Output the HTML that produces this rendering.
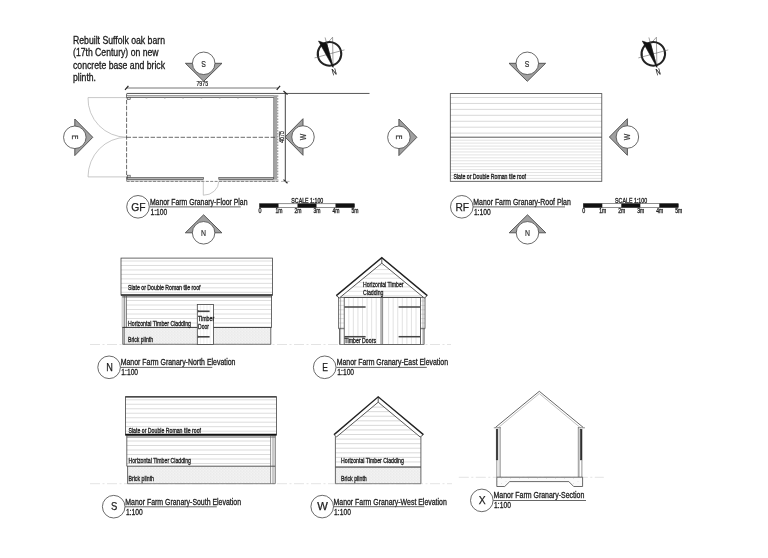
<!DOCTYPE html>
<html lang="en"><head><meta charset="utf-8"><title>Manor Farm Granary</title>
<style>html,body{margin:0;padding:0;background:#fff;}svg{display:block;}text{font-family:'Liberation Sans', sans-serif;}</style>
</head><body>
<svg width="768" height="558" viewBox="0 0 768 558" style="filter:grayscale(1)">
<rect x="0" y="0" width="768" height="558" fill="#fff"/>
<text x="73" y="43.7" font-size="10" fill="#1a1a1a" stroke="#1a1a1a" stroke-width="0.3" textLength="92" lengthAdjust="spacingAndGlyphs">Rebuilt Suffolk oak barn</text>
<text x="73" y="56.2" font-size="10" fill="#1a1a1a" stroke="#1a1a1a" stroke-width="0.3" textLength="85.5" lengthAdjust="spacingAndGlyphs">(17th Century) on new</text>
<text x="73" y="68.7" font-size="10" fill="#1a1a1a" stroke="#1a1a1a" stroke-width="0.3" textLength="92" lengthAdjust="spacingAndGlyphs">concrete base and brick</text>
<text x="73" y="81.2" font-size="10" fill="#1a1a1a" stroke="#1a1a1a" stroke-width="0.3" textLength="23" lengthAdjust="spacingAndGlyphs">plinth.</text>
<path d="M126.6 97.6H88A38.6 38.6 0 0 0 126.6 137.2" fill="none" stroke="#b0b0b0" stroke-width="0.7"/>
<path d="M126.6 176.9H88A38.6 39.6 0 0 1 126.6 137.3" fill="none" stroke="#b0b0b0" stroke-width="0.7"/>
<line x1="126.6" y1="93.45" x2="369.5" y2="93.45" stroke="#444" stroke-width="0.9" />
<line x1="126.6" y1="95.6" x2="274" y2="95.6" stroke="#6a6a6a" stroke-width="0.7" />
<line x1="128" y1="97.3" x2="274" y2="97.3" stroke="#3c3c3c" stroke-width="0.9" />
<rect x="127.6" y="97.6" width="2.6" height="2.0" fill="#ddd" stroke="#444" stroke-width="0.6" />
<line x1="145.7" y1="98" x2="147.3" y2="98" stroke="#888" stroke-width="0.7" />
<line x1="163.99999999999997" y1="98" x2="165.6" y2="98" stroke="#888" stroke-width="0.7" />
<line x1="182.29999999999998" y1="98" x2="183.9" y2="98" stroke="#888" stroke-width="0.7" />
<line x1="200.59999999999997" y1="98" x2="202.2" y2="98" stroke="#888" stroke-width="0.7" />
<line x1="218.89999999999998" y1="98" x2="220.5" y2="98" stroke="#888" stroke-width="0.7" />
<line x1="237.2" y1="98" x2="238.8" y2="98" stroke="#888" stroke-width="0.7" />
<line x1="255.49999999999994" y1="98" x2="257.09999999999997" y2="98" stroke="#888" stroke-width="0.7" />
<line x1="126.6" y1="94" x2="126.6" y2="181.5" stroke="#3a3a3a" stroke-width="0.75" stroke-dasharray="4.4 1.5"/>
<rect x="273.6" y="95.2" width="3.6" height="86.6" fill="#a4a4a4" stroke="none" stroke-width="0" />
<line x1="273.6" y1="97" x2="273.6" y2="179" stroke="#666" stroke-width="0.6" />
<line x1="277.7" y1="95.2" x2="277.7" y2="182" stroke="#999" stroke-width="1.2" stroke-dasharray="1.6 1.3"/>
<line x1="126.6" y1="137.3" x2="275.5" y2="137.3" stroke="#3a3a3a" stroke-width="0.75" stroke-dasharray="4.4 1.6"/>
<rect x="126.6" y="179.6" width="77" height="2.2" fill="#d8d8d8" stroke="none" stroke-width="0" />
<rect x="218.8" y="179.6" width="59.3" height="2.2" fill="#d8d8d8" stroke="none" stroke-width="0" />
<line x1="126.6" y1="181.4" x2="278.3" y2="181.4" stroke="#777" stroke-width="0.9" stroke-dasharray="3 1.4"/>
<rect x="127.4" y="177.6" width="76.1" height="2.0" fill="#b4b4b4" stroke="#3c3c3c" stroke-width="0.6" />
<rect x="218.8" y="177.6" width="54.6" height="2.0" fill="#b4b4b4" stroke="#3c3c3c" stroke-width="0.6" />
<rect x="127.6" y="175.2" width="2.6" height="2.0" fill="#ddd" stroke="#444" stroke-width="0.6" />
<path d="M203.3 181.4V195.2A15.3 14 0 0 0 218.8 181.4" fill="none" stroke="#b0b0b0" stroke-width="0.7"/>
<line x1="126.6" y1="88.0" x2="278.3" y2="88.0" stroke="#666" stroke-width="0.9" />
<line x1="125.0" y1="89.8" x2="128.4" y2="85.8" stroke="#222" stroke-width="1.2" />
<line x1="276.7" y1="89.8" x2="280.1" y2="85.8" stroke="#222" stroke-width="1.2" />
<text x="202.3" y="85.7" font-size="6.6" fill="#222" stroke="#222" stroke-width="0.2" text-anchor="middle" textLength="11.7" lengthAdjust="spacingAndGlyphs">7975</text>
<line x1="285.3" y1="93" x2="285.3" y2="181.4" stroke="#444" stroke-width="1.0" />
<line x1="283.5" y1="91.0" x2="287.5" y2="94.6" stroke="#222" stroke-width="1.2" />
<line x1="283.5" y1="179.6" x2="287.5" y2="183.2" stroke="#222" stroke-width="1.2" />
<line x1="281" y1="181.4" x2="289.5" y2="181.4" stroke="#888" stroke-width="0.6" />
<text x="283.9" y="137.1" font-size="6.6" fill="#222" stroke="#222" stroke-width="0.2" text-anchor="middle" textLength="11.7" lengthAdjust="spacingAndGlyphs" transform="rotate(-90 283.8 137.1)">4675</text>
<polygon points="185.40,63.30 222.00,63.30 203.70,81.30" fill="#a0a0a0" stroke="#4a4a4a" stroke-width="0.9" stroke-linejoin="miter"/>
<circle cx="203.7" cy="63.3" r="11.25" fill="#fff" stroke="#444" stroke-width="0.8"/>
<text x="203.7" y="66.0" font-size="8.8" fill="#333" stroke="#333" stroke-width="0.2" text-anchor="middle" textLength="4.6" lengthAdjust="spacingAndGlyphs" transform="rotate(180 203.7 63.3)">S</text>
<polygon points="74.80,119.00 74.80,155.60 92.80,137.30" fill="#a0a0a0" stroke="#4a4a4a" stroke-width="0.9" stroke-linejoin="miter"/>
<circle cx="74.8" cy="137.3" r="11.25" fill="#fff" stroke="#444" stroke-width="0.8"/>
<text x="74.8" y="140.0" font-size="8.8" fill="#333" stroke="#333" stroke-width="0.2" text-anchor="middle" textLength="4.4" lengthAdjust="spacingAndGlyphs" transform="rotate(90 74.8 137.3)">E</text>
<polygon points="303.00,118.70 303.00,155.30 285.00,137.00" fill="#a0a0a0" stroke="#4a4a4a" stroke-width="0.9" stroke-linejoin="miter"/>
<circle cx="303.0" cy="137.0" r="11.25" fill="#fff" stroke="#444" stroke-width="0.8"/>
<text x="303.0" y="139.7" font-size="8.8" fill="#333" stroke="#333" stroke-width="0.2" text-anchor="middle" textLength="6.5" lengthAdjust="spacingAndGlyphs" transform="rotate(-90 303.0 137.0)">W</text>
<polygon points="185.30,232.80 221.90,232.80 203.60,214.80" fill="#a0a0a0" stroke="#4a4a4a" stroke-width="0.9" stroke-linejoin="miter"/>
<circle cx="203.6" cy="232.8" r="11.25" fill="#fff" stroke="#444" stroke-width="0.8"/>
<text x="203.6" y="235.5" font-size="8.8" fill="#333" stroke="#333" stroke-width="0.2" text-anchor="middle" textLength="5.0" lengthAdjust="spacingAndGlyphs">N</text>
<g transform="translate(329.5 53.9) rotate(165)">
<polygon points="0,-13.8 -7.3,15.3 0,10.4" fill="#fff" stroke="#555" stroke-width="0.5"/>
<circle cx="0" cy="0" r="11.8" fill="none" stroke="#222" stroke-width="2"/>
<line x1="-15.5" y1="0" x2="15.5" y2="0" stroke="#555" stroke-width="0.5"/>
<line x1="0" y1="-14" x2="0" y2="17" stroke="#555" stroke-width="0.5"/>
<polygon points="0,-13.8 7.3,15.3 0,10.4" fill="#111" stroke="#111" stroke-width="0.5"/>
<text x="0" y="-15.4" font-size="9" fill="#222" stroke="#222" stroke-width="0.25" text-anchor="middle" textLength="4.4" lengthAdjust="spacingAndGlyphs">N</text>
</g>
<circle cx="138.0" cy="206.8" r="11.3" fill="#fff" stroke="#444" stroke-width="0.8"/>
<text x="138.4" y="210.5" font-size="11.4" fill="#222" stroke="#222" stroke-width="0.25" text-anchor="middle" textLength="14.3" lengthAdjust="spacingAndGlyphs">GF</text>
<text x="149.9" y="204.8" font-size="8.6" fill="#1c1c1c" stroke="#1c1c1c" stroke-width="0.3" textLength="97.6" lengthAdjust="spacingAndGlyphs">Manor Farm Granary-Floor Plan</text>
<line x1="149.6" y1="206.9" x2="240.8" y2="206.9" stroke="#555" stroke-width="0.9" />
<text x="150.5" y="214.8" font-size="8.5" fill="#1c1c1c" stroke="#1c1c1c" stroke-width="0.3" textLength="16.8" lengthAdjust="spacingAndGlyphs">1:100</text>
<rect x="259.5" y="203.8" width="95.0" height="3.6" fill="#fff" stroke="#222" stroke-width="0.5" />
<rect x="259.5" y="203.60000000000002" width="19.0" height="4.0" fill="#111"/>
<rect x="297.5" y="203.60000000000002" width="19.0" height="4.0" fill="#111"/>
<rect x="335.5" y="203.60000000000002" width="19.0" height="4.0" fill="#111"/>
<text x="307.3" y="202.70000000000002" font-size="6.5" fill="#222" stroke="#222" stroke-width="0.3" text-anchor="middle" textLength="32" lengthAdjust="spacingAndGlyphs">SCALE 1:100</text>
<text x="259.9" y="212.70000000000002" font-size="6.6" fill="#222" stroke="#222" stroke-width="0.3" text-anchor="middle" textLength="3.0" lengthAdjust="spacingAndGlyphs">0</text>
<text x="278.9" y="212.70000000000002" font-size="6.6" fill="#222" stroke="#222" stroke-width="0.3" text-anchor="middle" textLength="7.0" lengthAdjust="spacingAndGlyphs">1m</text>
<text x="297.9" y="212.70000000000002" font-size="6.6" fill="#222" stroke="#222" stroke-width="0.3" text-anchor="middle" textLength="7.0" lengthAdjust="spacingAndGlyphs">2m</text>
<text x="316.9" y="212.70000000000002" font-size="6.6" fill="#222" stroke="#222" stroke-width="0.3" text-anchor="middle" textLength="7.0" lengthAdjust="spacingAndGlyphs">3m</text>
<text x="335.9" y="212.70000000000002" font-size="6.6" fill="#222" stroke="#222" stroke-width="0.3" text-anchor="middle" textLength="7.0" lengthAdjust="spacingAndGlyphs">4m</text>
<text x="354.9" y="212.70000000000002" font-size="6.6" fill="#222" stroke="#222" stroke-width="0.3" text-anchor="middle" textLength="7.0" lengthAdjust="spacingAndGlyphs">5m</text>
<path d="M450.3 97.50H601.8M450.3 103.44H601.8M450.3 109.38H601.8M450.3 115.32H601.8M450.3 121.26H601.8M450.3 127.20H601.8M450.3 133.14H601.8" stroke="#cfcfcf" stroke-width="0.8" fill="none"/>
<path d="M450.3 140.20H601.8M450.3 143.14H601.8M450.3 146.08H601.8M450.3 149.02H601.8M450.3 151.96H601.8M450.3 154.90H601.8M450.3 157.84H601.8M450.3 160.78H601.8M450.3 163.72H601.8M450.3 166.66H601.8M450.3 169.60H601.8M450.3 172.54H601.8M450.3 175.48H601.8M450.3 178.42H601.8" stroke="#dcdcdc" stroke-width="0.8" fill="none"/>
<rect x="450.3" y="93.6" width="151.5" height="87.7" fill="none" stroke="#444" stroke-width="0.8" />
<line x1="450.3" y1="137.2" x2="601.8" y2="137.2" stroke="#444" stroke-width="0.9" />
<text x="453.5" y="178.5" font-size="6.6" fill="#222" stroke="#222" stroke-width="0.3" textLength="72.5" lengthAdjust="spacingAndGlyphs">Slate or Double Roman tile roof</text>
<polygon points="509.00,63.30 545.60,63.30 527.30,81.30" fill="#a0a0a0" stroke="#4a4a4a" stroke-width="0.9" stroke-linejoin="miter"/>
<circle cx="527.3" cy="63.3" r="11.25" fill="#fff" stroke="#444" stroke-width="0.8"/>
<text x="527.3" y="66.0" font-size="8.8" fill="#333" stroke="#333" stroke-width="0.2" text-anchor="middle" textLength="4.6" lengthAdjust="spacingAndGlyphs" transform="rotate(180 527.3 63.3)">S</text>
<polygon points="398.90,119.00 398.90,155.60 416.90,137.30" fill="#a0a0a0" stroke="#4a4a4a" stroke-width="0.9" stroke-linejoin="miter"/>
<circle cx="398.9" cy="137.3" r="11.25" fill="#fff" stroke="#444" stroke-width="0.8"/>
<text x="398.9" y="140.0" font-size="8.8" fill="#333" stroke="#333" stroke-width="0.2" text-anchor="middle" textLength="4.4" lengthAdjust="spacingAndGlyphs" transform="rotate(90 398.9 137.3)">E</text>
<polygon points="627.40,118.70 627.40,155.30 609.40,137.00" fill="#a0a0a0" stroke="#4a4a4a" stroke-width="0.9" stroke-linejoin="miter"/>
<circle cx="627.4" cy="137" r="11.25" fill="#fff" stroke="#444" stroke-width="0.8"/>
<text x="627.4" y="139.7" font-size="8.8" fill="#333" stroke="#333" stroke-width="0.2" text-anchor="middle" textLength="6.5" lengthAdjust="spacingAndGlyphs" transform="rotate(-90 627.4 137)">W</text>
<polygon points="509.20,232.80 545.80,232.80 527.50,214.80" fill="#a0a0a0" stroke="#4a4a4a" stroke-width="0.9" stroke-linejoin="miter"/>
<circle cx="527.5" cy="232.8" r="11.25" fill="#fff" stroke="#444" stroke-width="0.8"/>
<text x="527.5" y="235.5" font-size="8.8" fill="#333" stroke="#333" stroke-width="0.2" text-anchor="middle" textLength="5.0" lengthAdjust="spacingAndGlyphs">N</text>
<g transform="translate(653.3 53.9) rotate(165)">
<polygon points="0,-13.8 -7.3,15.3 0,10.4" fill="#fff" stroke="#555" stroke-width="0.5"/>
<circle cx="0" cy="0" r="11.8" fill="none" stroke="#222" stroke-width="2"/>
<line x1="-15.5" y1="0" x2="15.5" y2="0" stroke="#555" stroke-width="0.5"/>
<line x1="0" y1="-14" x2="0" y2="17" stroke="#555" stroke-width="0.5"/>
<polygon points="0,-13.8 7.3,15.3 0,10.4" fill="#111" stroke="#111" stroke-width="0.5"/>
<text x="0" y="-15.4" font-size="9" fill="#222" stroke="#222" stroke-width="0.25" text-anchor="middle" textLength="4.4" lengthAdjust="spacingAndGlyphs">N</text>
</g>
<circle cx="461.8" cy="206.8" r="11.3" fill="#fff" stroke="#444" stroke-width="0.8"/>
<text x="462.2" y="210.5" font-size="11.4" fill="#222" stroke="#222" stroke-width="0.25" text-anchor="middle" textLength="13.6" lengthAdjust="spacingAndGlyphs">RF</text>
<text x="473.3" y="204.8" font-size="8.6" fill="#1c1c1c" stroke="#1c1c1c" stroke-width="0.3" textLength="97.5" lengthAdjust="spacingAndGlyphs">Manor Farm Granary-Roof Plan</text>
<line x1="473.0" y1="206.9" x2="565" y2="206.9" stroke="#555" stroke-width="0.9" />
<text x="473.90000000000003" y="214.8" font-size="8.5" fill="#1c1c1c" stroke="#1c1c1c" stroke-width="0.3" textLength="16.8" lengthAdjust="spacingAndGlyphs">1:100</text>
<rect x="583.3" y="203.75" width="95.0" height="3.6" fill="#fff" stroke="#222" stroke-width="0.5" />
<rect x="583.3" y="203.55" width="19.0" height="4.0" fill="#111"/>
<rect x="621.3" y="203.55" width="19.0" height="4.0" fill="#111"/>
<rect x="659.3" y="203.55" width="19.0" height="4.0" fill="#111"/>
<text x="631.0999999999999" y="202.65" font-size="6.5" fill="#222" stroke="#222" stroke-width="0.3" text-anchor="middle" textLength="32" lengthAdjust="spacingAndGlyphs">SCALE 1:100</text>
<text x="583.6999999999999" y="212.65" font-size="6.6" fill="#222" stroke="#222" stroke-width="0.3" text-anchor="middle" textLength="3.0" lengthAdjust="spacingAndGlyphs">0</text>
<text x="602.6999999999999" y="212.65" font-size="6.6" fill="#222" stroke="#222" stroke-width="0.3" text-anchor="middle" textLength="7.0" lengthAdjust="spacingAndGlyphs">1m</text>
<text x="621.6999999999999" y="212.65" font-size="6.6" fill="#222" stroke="#222" stroke-width="0.3" text-anchor="middle" textLength="7.0" lengthAdjust="spacingAndGlyphs">2m</text>
<text x="640.6999999999999" y="212.65" font-size="6.6" fill="#222" stroke="#222" stroke-width="0.3" text-anchor="middle" textLength="7.0" lengthAdjust="spacingAndGlyphs">3m</text>
<text x="659.6999999999999" y="212.65" font-size="6.6" fill="#222" stroke="#222" stroke-width="0.3" text-anchor="middle" textLength="7.0" lengthAdjust="spacingAndGlyphs">4m</text>
<text x="678.6999999999999" y="212.65" font-size="6.6" fill="#222" stroke="#222" stroke-width="0.3" text-anchor="middle" textLength="7.0" lengthAdjust="spacingAndGlyphs">5m</text>
<line x1="90" y1="344.5" x2="451" y2="344.5" stroke="#dcdcdc" stroke-width="0.8" stroke-dasharray="10 2.5 2 2.5"/>
<path d="M121 261.00H272.5M121 265.47H272.5M121 269.94H272.5M121 274.41H272.5M121 278.88H272.5M121 283.35H272.5M121 287.82H272.5M121 292.29H272.5" stroke="#d4d4d4" stroke-width="0.8" fill="none"/>
<rect x="121" y="258.1" width="151.5" height="37.0" fill="none" stroke="#444" stroke-width="0.8" />
<line x1="121" y1="295.0" x2="272.5" y2="295.0" stroke="#2a2a2a" stroke-width="1.5" />
<line x1="122" y1="296.9" x2="272" y2="296.9" stroke="#444" stroke-width="0.9" />
<path d="M126.4 300.50H271.4M126.4 305.00H271.4M126.4 309.50H271.4M126.4 314.00H271.4M126.4 318.50H271.4M126.4 323.00H271.4" stroke="#d6d6d6" stroke-width="0.8" fill="none"/>
<rect x="124.3" y="328" width="146.7" height="16.5" fill="url(#brick)"/>
<line x1="122.2" y1="296" x2="122.2" y2="327.5" stroke="#999" stroke-width="0.6" />
<line x1="124.2" y1="296" x2="124.2" y2="344.5" stroke="#444" stroke-width="0.8" />
<line x1="126.3" y1="296" x2="126.3" y2="327.5" stroke="#444" stroke-width="0.8" />
<line x1="122.8" y1="327.5" x2="122.8" y2="344.5" stroke="#444" stroke-width="0.8" />
<line x1="271.5" y1="296" x2="271.5" y2="327.5" stroke="#444" stroke-width="0.8" />
<line x1="270.8" y1="327.5" x2="270.8" y2="344.5" stroke="#444" stroke-width="0.8" />
<line x1="122.3" y1="327.4" x2="271.5" y2="327.4" stroke="#333" stroke-width="1.0" />
<line x1="122.8" y1="344.3" x2="270.8" y2="344.3" stroke="#555" stroke-width="0.8" />
<rect x="197.3" y="304.5" width="16.2" height="40" fill="#fff" stroke="#444" stroke-width="0.8" />
<path d="M200.60 305V344M203.80 305V344M207.00 305V344M210.20 305V344" stroke="#e4e4e4" stroke-width="0.6" fill="none"/>
<line x1="198.3" y1="311.3" x2="209.6" y2="311.3" stroke="#444" stroke-width="1.6" />
<line x1="198.3" y1="336.8" x2="209.6" y2="336.8" stroke="#444" stroke-width="1.6" />
<path d="M197.6 309.8L199.6 311.3L197.6 312.8ZM197.6 335.3L199.6 336.8L197.6 338.3Z" fill="#444"/>
<text x="128" y="290" font-size="6.6" fill="#222" stroke="#222" stroke-width="0.3" textLength="72.5" lengthAdjust="spacingAndGlyphs">Slate or Double Roman tile roof</text>
<text x="128" y="325.7" font-size="6.6" fill="#222" stroke="#222" stroke-width="0.3" textLength="63" lengthAdjust="spacingAndGlyphs">Horizontal Timber Cladding</text>
<text x="128" y="341.8" font-size="6.6" fill="#222" stroke="#222" stroke-width="0.3" textLength="25" lengthAdjust="spacingAndGlyphs">Brick plinth</text>
<text x="198" y="321.3" font-size="6.6" fill="#222" stroke="#222" stroke-width="0.3" textLength="16.2" lengthAdjust="spacingAndGlyphs">Timber</text>
<text x="198" y="328.8" font-size="6.6" fill="#222" stroke="#222" stroke-width="0.3" textLength="11" lengthAdjust="spacingAndGlyphs">Door</text>
<circle cx="109.1" cy="367.3" r="11.3" fill="#fff" stroke="#444" stroke-width="0.8"/>
<text x="109.5" y="371.0" font-size="11.4" fill="#222" stroke="#222" stroke-width="0.25" text-anchor="middle" textLength="6.6" lengthAdjust="spacingAndGlyphs">N</text>
<text x="120.7" y="365.3" font-size="8.6" fill="#1c1c1c" stroke="#1c1c1c" stroke-width="0.3" textLength="114.8" lengthAdjust="spacingAndGlyphs">Manor Farm Granary-North Elevation</text>
<line x1="120.4" y1="367.4" x2="212.3" y2="367.4" stroke="#555" stroke-width="0.9" />
<text x="121.3" y="375.3" font-size="8.5" fill="#1c1c1c" stroke="#1c1c1c" stroke-width="0.3" textLength="16.8" lengthAdjust="spacingAndGlyphs">1:100</text>
<clipPath id="gE"><polygon points="381.8,263.5 340.5,297.4 423.1,297.4"/></clipPath>
<g clip-path="url(#gE)">
<path d="M336 265.20H428M336 269.55H428M336 273.90H428M336 278.25H428M336 282.60H428M336 286.95H428M336 291.30H428M336 295.65H428" stroke="#d6d6d6" stroke-width="0.7" fill="none"/>
</g>
<path d="M338.6 301.00H344.2M338.6 305.40H344.2M338.6 309.80H344.2M338.6 314.20H344.2M338.6 318.60H344.2M338.6 323.00H344.2M338.6 327.40H344.2" stroke="#d4d4d4" stroke-width="0.7" fill="none"/>
<path d="M420.5 301.00H425M420.5 305.40H425M420.5 309.80H425M420.5 314.20H425M420.5 318.60H425M420.5 323.00H425M420.5 327.40H425" stroke="#d4d4d4" stroke-width="0.7" fill="none"/>
<path d="M348.80 297.8V344M353.37 297.8V344M357.94 297.8V344M362.51 297.8V344M367.08 297.8V344M371.65 297.8V344M376.22 297.8V344M380.79 297.8V344" stroke="#d6d6d6" stroke-width="0.7" fill="none"/>
<path d="M388.60 297.8V344M393.17 297.8V344M397.74 297.8V344M402.31 297.8V344M406.88 297.8V344M411.45 297.8V344M416.02 297.8V344" stroke="#d6d6d6" stroke-width="0.7" fill="none"/>
<rect x="344.2" y="297.6" width="76.3" height="46.9" fill="none" stroke="#444" stroke-width="0.8" />
<line x1="381.1" y1="297.6" x2="381.1" y2="344.5" stroke="#555" stroke-width="0.7" />
<line x1="382.6" y1="297.6" x2="382.6" y2="344.5" stroke="#555" stroke-width="0.7" />
<line x1="344.4" y1="307.0" x2="365.6" y2="307.0" stroke="#444" stroke-width="1.5" />
<line x1="344.4" y1="336.7" x2="365.6" y2="336.7" stroke="#444" stroke-width="1.5" />
<line x1="398.6" y1="307.0" x2="420.2" y2="307.0" stroke="#444" stroke-width="1.5" />
<line x1="398.6" y1="336.7" x2="420.2" y2="336.7" stroke="#444" stroke-width="1.5" />
<line x1="338.6" y1="297" x2="338.6" y2="328.7" stroke="#444" stroke-width="0.8" />
<line x1="340.6" y1="297" x2="340.6" y2="344.5" stroke="#777" stroke-width="0.6" />
<line x1="339.5" y1="328.7" x2="339.5" y2="344.5" stroke="#444" stroke-width="0.8" />
<line x1="425.0" y1="297" x2="425.0" y2="328.7" stroke="#444" stroke-width="0.8" />
<line x1="423.0" y1="297" x2="423.0" y2="344.5" stroke="#777" stroke-width="0.6" />
<line x1="424.1" y1="328.7" x2="424.1" y2="344.5" stroke="#444" stroke-width="0.8" />
<line x1="338.6" y1="328.7" x2="344.2" y2="328.7" stroke="#444" stroke-width="0.8" />
<line x1="420.5" y1="328.7" x2="425" y2="328.7" stroke="#444" stroke-width="0.8" />
<line x1="339.5" y1="344.5" x2="424.1" y2="344.5" stroke="#666" stroke-width="0.8" />
<line x1="340.6" y1="297.4" x2="423" y2="297.4" stroke="#444" stroke-width="0.8" />
<path d="M339.3 298.0L381.8 263.2L424.3 298.0M381.8 257.6V263.2M336.3 295.6L339.3 298.0M427.3 295.6L424.3 298.0" fill="none" stroke="#3a3a3a" stroke-width="0.85"/>
<path d="M336.3 295.6L381.8 257.6L427.3 295.6" fill="none" stroke="#222" stroke-width="1.4" stroke-linejoin="miter"/>
<text x="363" y="286.8" font-size="6.6" fill="#222" stroke="#222" stroke-width="0.3" textLength="40.5" lengthAdjust="spacingAndGlyphs">Horizontal Timber</text>
<text x="363" y="294.5" font-size="6.6" fill="#222" stroke="#222" stroke-width="0.3" textLength="20.5" lengthAdjust="spacingAndGlyphs">Cladding</text>
<text x="344.6" y="342.5" font-size="6.6" fill="#222" stroke="#222" stroke-width="0.3" textLength="31.4" lengthAdjust="spacingAndGlyphs">Timber Doors</text>
<circle cx="324.7" cy="367.3" r="11.3" fill="#fff" stroke="#444" stroke-width="0.8"/>
<text x="325.09999999999997" y="371.0" font-size="11.4" fill="#222" stroke="#222" stroke-width="0.25" text-anchor="middle" textLength="5.7" lengthAdjust="spacingAndGlyphs">E</text>
<text x="336.7" y="365.3" font-size="8.6" fill="#1c1c1c" stroke="#1c1c1c" stroke-width="0.3" textLength="111.3" lengthAdjust="spacingAndGlyphs">Manor Farm Granary-East Elevation</text>
<line x1="336.4" y1="367.4" x2="426.8" y2="367.4" stroke="#555" stroke-width="0.9" />
<text x="337.3" y="375.3" font-size="8.5" fill="#1c1c1c" stroke="#1c1c1c" stroke-width="0.3" textLength="16.8" lengthAdjust="spacingAndGlyphs">1:100</text>
<line x1="90" y1="483.7" x2="452" y2="483.7" stroke="#dcdcdc" stroke-width="0.8" stroke-dasharray="10 2.5 2 2.5"/>
<path d="M125.4 399.80H276.5M125.4 404.28H276.5M125.4 408.76H276.5M125.4 413.24H276.5M125.4 417.72H276.5M125.4 422.20H276.5M125.4 426.68H276.5M125.4 431.16H276.5" stroke="#d4d4d4" stroke-width="0.8" fill="none"/>
<rect x="125.4" y="396.8" width="151.1" height="38" fill="none" stroke="#444" stroke-width="0.8" />
<line x1="125.4" y1="396.8" x2="276.5" y2="396.8" stroke="#333" stroke-width="1.2" />
<line x1="125.4" y1="434.8" x2="276.5" y2="434.8" stroke="#111" stroke-width="2.0" />
<line x1="126.8" y1="437.0" x2="275.2" y2="437.0" stroke="#444" stroke-width="0.8" />
<path d="M126.8 441.00H270.6M126.8 445.50H270.6M126.8 450.00H270.6M126.8 454.50H270.6M126.8 459.00H270.6M126.8 463.50H270.6" stroke="#d2d2d2" stroke-width="0.8" fill="none"/>
<rect x="127.6" y="466.4" width="143" height="17.2" fill="url(#brick)"/>
<line x1="126.8" y1="436" x2="126.8" y2="466.2" stroke="#444" stroke-width="0.8" />
<line x1="127.6" y1="466.2" x2="127.6" y2="483.7" stroke="#444" stroke-width="0.8" />
<line x1="270.6" y1="436" x2="270.6" y2="483.7" stroke="#666" stroke-width="0.7" />
<line x1="273.0" y1="436" x2="273.0" y2="483.7" stroke="#666" stroke-width="0.7" />
<line x1="275.2" y1="436" x2="275.2" y2="483.7" stroke="#444" stroke-width="0.8" />
<line x1="126.8" y1="466.2" x2="275.2" y2="466.2" stroke="#444" stroke-width="0.9" />
<line x1="127.6" y1="483.7" x2="275.2" y2="483.7" stroke="#666" stroke-width="0.8" />
<text x="128.5" y="433" font-size="6.6" fill="#222" stroke="#222" stroke-width="0.3" textLength="72.5" lengthAdjust="spacingAndGlyphs">Slate or Double Roman tile roof</text>
<text x="128.5" y="463" font-size="6.6" fill="#222" stroke="#222" stroke-width="0.3" textLength="62.5" lengthAdjust="spacingAndGlyphs">Horizontal Timber Cladding</text>
<text x="128.5" y="480.8" font-size="6.6" fill="#222" stroke="#222" stroke-width="0.3" textLength="25.5" lengthAdjust="spacingAndGlyphs">Brick plinth</text>
<circle cx="113.7" cy="506.7" r="11.3" fill="#fff" stroke="#444" stroke-width="0.8"/>
<text x="114.10000000000001" y="510.4" font-size="11.4" fill="#222" stroke="#222" stroke-width="0.25" text-anchor="middle" textLength="6.3" lengthAdjust="spacingAndGlyphs">S</text>
<text x="125.3" y="504.7" font-size="8.6" fill="#1c1c1c" stroke="#1c1c1c" stroke-width="0.3" textLength="115.7" lengthAdjust="spacingAndGlyphs">Manor Farm Granary-South Elevation</text>
<line x1="125.0" y1="506.8" x2="216.8" y2="506.8" stroke="#555" stroke-width="0.9" />
<text x="125.89999999999999" y="514.7" font-size="8.5" fill="#1c1c1c" stroke="#1c1c1c" stroke-width="0.3" textLength="16.8" lengthAdjust="spacingAndGlyphs">1:100</text>
<clipPath id="gW2"><polygon points="378,402.4 335.4,438 335.4,467 420.9,467 420.9,438"/></clipPath>
<g clip-path="url(#gW2)">
<path d="M335.4 407.10H420.9M335.4 411.67H420.9M335.4 416.24H420.9M335.4 420.81H420.9M335.4 425.38H420.9M335.4 429.95H420.9M335.4 434.52H420.9M335.4 439.09H420.9M335.4 443.66H420.9M335.4 448.23H420.9M335.4 452.80H420.9M335.4 457.37H420.9M335.4 461.94H420.9M335.4 466.51H420.9" stroke="#cfcfcf" stroke-width="0.8" fill="none"/>
</g>
<rect x="335.4" y="467.3" width="85.5" height="16.3" fill="url(#brick)"/>
<line x1="335.4" y1="436.5" x2="335.4" y2="483.7" stroke="#444" stroke-width="0.8" />
<line x1="420.9" y1="436.5" x2="420.9" y2="483.7" stroke="#444" stroke-width="0.8" />
<line x1="335.4" y1="467.1" x2="420.9" y2="467.1" stroke="#3a3a3a" stroke-width="1.0" />
<line x1="335.4" y1="483.7" x2="420.9" y2="483.7" stroke="#666" stroke-width="0.8" />
<path d="M336.4 437L378.2 402.2L420.2 437M378.2 396.8V402.2M334.1 434.6L336.4 437M423.4 434.6L420.2 437" fill="none" stroke="#3a3a3a" stroke-width="0.85"/>
<path d="M334.1 434.6L378.2 396.8L423.4 434.6" fill="none" stroke="#222" stroke-width="1.4"/>
<text x="341" y="462.5" font-size="6.6" fill="#222" stroke="#222" stroke-width="0.3" textLength="62.8" lengthAdjust="spacingAndGlyphs">Horizontal Timber Cladding</text>
<text x="341" y="481.0" font-size="6.6" fill="#222" stroke="#222" stroke-width="0.3" textLength="25.8" lengthAdjust="spacingAndGlyphs">Brick plinth</text>
<circle cx="322.2" cy="506.6" r="11.3" fill="#fff" stroke="#444" stroke-width="0.8"/>
<text x="322.59999999999997" y="510.3" font-size="11.4" fill="#222" stroke="#222" stroke-width="0.25" text-anchor="middle" textLength="10.6" lengthAdjust="spacingAndGlyphs">W</text>
<text x="333.5" y="504.6" font-size="8.6" fill="#1c1c1c" stroke="#1c1c1c" stroke-width="0.3" textLength="113.3" lengthAdjust="spacingAndGlyphs">Manor Farm Granary-West Elevation</text>
<line x1="333.2" y1="506.7" x2="424.3" y2="506.7" stroke="#555" stroke-width="0.9" />
<text x="334.1" y="514.6" font-size="8.5" fill="#1c1c1c" stroke="#1c1c1c" stroke-width="0.3" textLength="16.8" lengthAdjust="spacingAndGlyphs">1:100</text>
<line x1="458.8" y1="477.3" x2="603.8" y2="477.3" stroke="#dcdcdc" stroke-width="0.8" stroke-dasharray="10 2.5 2 2.5"/>
<path d="M495.5 427.4L539.3 391.3L583.2 427.4" fill="none" stroke="#555" stroke-width="0.9"/>
<path d="M497.6 428.2L539.3 393.6L581.0 428.2" fill="none" stroke="#999" stroke-width="0.6"/>
<rect x="496.2" y="429.3" width="1.6" height="30.6" fill="#333" stroke="#222" stroke-width="0.5" />
<line x1="500.2" y1="427" x2="500.2" y2="477" stroke="#666" stroke-width="0.7" />
<line x1="496.8" y1="460" x2="496.8" y2="477" stroke="#666" stroke-width="0.7" />
<line x1="499.0" y1="429" x2="499.0" y2="477" stroke="#999" stroke-width="0.5" />
<rect x="580.4" y="429.3" width="1.6" height="30.6" fill="#333" stroke="#222" stroke-width="0.5" />
<line x1="578.3" y1="427" x2="578.3" y2="477" stroke="#666" stroke-width="0.7" />
<line x1="581.9" y1="460" x2="581.9" y2="477" stroke="#666" stroke-width="0.7" />
<line x1="579.5" y1="429" x2="579.5" y2="477" stroke="#999" stroke-width="0.5" />
<line x1="493.8" y1="427.8" x2="500.5" y2="427.8" stroke="#666" stroke-width="0.7" />
<line x1="578" y1="427.8" x2="585" y2="427.8" stroke="#666" stroke-width="0.7" />
<path d="M496.8 477.2H582.6V486.5H573.7L568.8 481.6H509.7L504.7 486.5H496.8Z" fill="url(#conc)" stroke="#444" stroke-width="0.8"/>
<circle cx="481.8" cy="500.4" r="11.3" fill="#fff" stroke="#444" stroke-width="0.8"/>
<text x="482.2" y="504.1" font-size="11.4" fill="#222" stroke="#222" stroke-width="0.25" text-anchor="middle" textLength="6.9" lengthAdjust="spacingAndGlyphs">X</text>
<text x="493.5" y="498.4" font-size="8.6" fill="#1c1c1c" stroke="#1c1c1c" stroke-width="0.3" textLength="90.8" lengthAdjust="spacingAndGlyphs">Manor Farm Granary-Section</text>
<line x1="493.2" y1="500.5" x2="586" y2="500.5" stroke="#555" stroke-width="0.9" />
<text x="494.1" y="508.4" font-size="8.5" fill="#1c1c1c" stroke="#1c1c1c" stroke-width="0.3" textLength="16.8" lengthAdjust="spacingAndGlyphs">1:100</text>
<defs>
<pattern id="brick" width="1.5" height="2.9" patternUnits="userSpaceOnUse"><rect width="1.5" height="2.9" fill="#f6f6f6"/><rect x="0" y="0.6" width="0.8" height="0.8" fill="#d6d6d6"/><rect x="0.75" y="2.0" width="0.75" height="0.7" fill="#e2e2e2"/></pattern>
<pattern id="conc" width="9" height="5" patternUnits="userSpaceOnUse"><rect width="9" height="5" fill="#fafafa"/><circle cx="2" cy="1.5" r="0.35" fill="#aaa"/><circle cx="6.5" cy="3.4" r="0.35" fill="#bbb"/></pattern>
</defs>
</svg>
</body></html>
